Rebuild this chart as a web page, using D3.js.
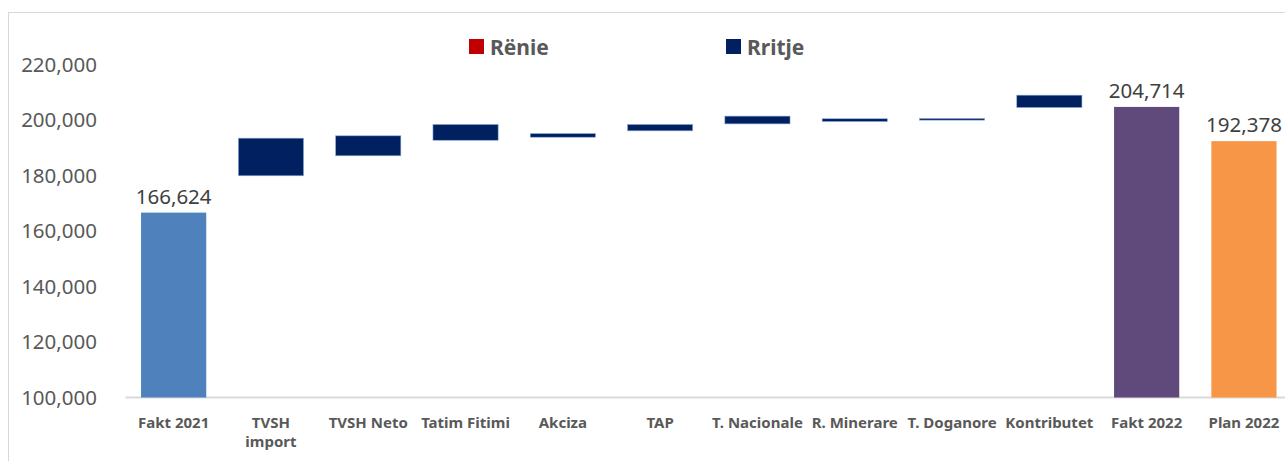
<!DOCTYPE html>
<html>
<head>
<meta charset="utf-8">
<script src="https://cdn.jsdelivr.net/npm/d3@7"></script>
<style>
  body { margin: 0; background: #fff; }
  svg { display: block; font-family: "Noto Sans", sans-serif; }
</style>
</head>
<body>
<svg id="chart"></svg>
<script>
// categories on the x axis
const categories = ["Fakt 2021", "TVSH import", "TVSH Neto", "Tatim Fitimi", "Akciza", "TAP",
  "T. Nacionale", "R. Minerare", "T. Doganore", "Kontributet", "Fakt 2022", "Plan 2022"];
// labels that excel wrapped onto two lines
const wrapped = ["TVSH import"];

// totals (full bars from the axis)
const totalNames = ["Fakt 2021", "Fakt 2022", "Plan 2022"];
const totalValues = [166624, 204714, 192378];

// floating bars (start / end of each step)
const stepNames = ["TVSH import", "TVSH Neto", "Tatim Fitimi", "Akciza", "TAP",
  "T. Nacionale", "R. Minerare", "T. Doganore", "Kontributet"];
const stepStart = [179900, 187100, 192700, 193800, 196100, 198600, 199450, 199950, 204500];
const stepEnd = [193450, 194300, 198400, 195100, 198400, 201400, 200450, 200550, 208950];

const yTicks = [100000, 120000, 140000, 160000, 180000, 200000, 220000];
const legendItems = ["Rënie", "Rritje"];

const width = 1285, height = 461;
const totalColors = { "Fakt 2021": "#4F81BD", "Fakt 2022": "#604A7B", "Plan 2022": "#F79646" };

const svg = d3.select("#chart").attr("width", width).attr("height", height);

// chart frame (cut off at right and bottom like the source)
svg.append("rect")
  .attr("x", 8.5).attr("y", 12.5)
  .attr("width", 1300).attr("height", 470)
  .attr("fill", "none").attr("stroke", "#d9d9d9");

const x = d3.scaleBand()
  .domain(categories)
  .range([125, 125 + 12 * 97.3])
  .paddingInner(0.33)
  .paddingOuter(0.165);

const y = d3.scaleLinear().domain([100000, 220000]).range([397.5, 64.5]);

// y axis
svg.append("g")
  .attr("transform", "translate(100,0)")
  .call(d3.axisLeft(y).tickValues(yTicks).tickSize(0).tickPadding(3).tickFormat(d3.format(",")))
  .call(g => g.select(".domain").remove())
  .call(g => g.selectAll("text")
    .attr("font-family", "Noto Sans")
    .attr("font-size", 20.5)
    .attr("fill", "#595959"));

// x axis
const xg = svg.append("g")
  .attr("transform", "translate(0,397)")
  .call(d3.axisBottom(x).tickSize(0).tickSizeOuter(0).tickFormat(""));
xg.select(".domain").attr("stroke", "#d9d9d9").attr("stroke-width", 2);

xg.selectAll(".tick").each(function (d) {
  const lines = wrapped.includes(d) ? d.split(" ") : [d];
  const t = d3.select(this).append("text")
    .attr("text-anchor", "middle")
    .attr("font-family", "Noto Sans")
    .attr("font-weight", "bold")
    .attr("font-size", 15)
    .attr("fill", "#595959");
  lines.forEach((l, i) => t.append("tspan").attr("x", 0).attr("y", 31 + i * 18.5).text(l));
});

// total bars
svg.append("g")
  .selectAll("rect")
  .data(totalNames)
  .join("rect")
  .attr("x", d => x(d))
  .attr("y", (d, i) => y(totalValues[i]))
  .attr("width", x.bandwidth())
  .attr("height", (d, i) => y(100000) - y(totalValues[i]))
  .attr("fill", d => totalColors[d]);

// step bars
svg.append("g")
  .selectAll("rect")
  .data(stepNames)
  .join("rect")
  .attr("x", d => x(d))
  .attr("y", (d, i) => y(Math.max(stepStart[i], stepEnd[i])))
  .attr("width", x.bandwidth())
  .attr("height", (d, i) => Math.abs(y(stepStart[i]) - y(stepEnd[i])))
  .attr("fill", (d, i) => stepEnd[i] >= stepStart[i] ? "#002060" : "#C00000")
  .attr("stroke", "#8faad8")
  .attr("stroke-width", 0.6);

// value labels on totals
svg.append("g")
  .attr("font-family", "Noto Sans")
  .attr("font-size", 20.5)
  .attr("fill", "#404040")
  .attr("text-anchor", "middle")
  .selectAll("text")
  .data(totalNames)
  .join("text")
  .attr("x", d => x(d) + x.bandwidth() / 2)
  .attr("y", (d, i) => y(totalValues[i]) - 9)
  .text((d, i) => d3.format(",")(totalValues[i]));

// legend
const legendX = [469, 726];
const legendColors = ["#C00000", "#002060"];
const lg = svg.append("g").selectAll("g").data(legendItems).join("g")
  .attr("transform", (d, i) => `translate(${legendX[i]},0)`);
lg.append("rect")
  .attr("x", 0).attr("y", 39)
  .attr("width", 15).attr("height", 15)
  .attr("fill", (d, i) => legendColors[i]);
lg.append("text")
  .attr("x", 21).attr("y", 55)
  .attr("font-family", "Noto Sans")
  .attr("font-weight", "bold")
  .attr("font-size", 21)
  .attr("fill", "#595959")
  .text(d => d);
</script>
</body>
</html>
